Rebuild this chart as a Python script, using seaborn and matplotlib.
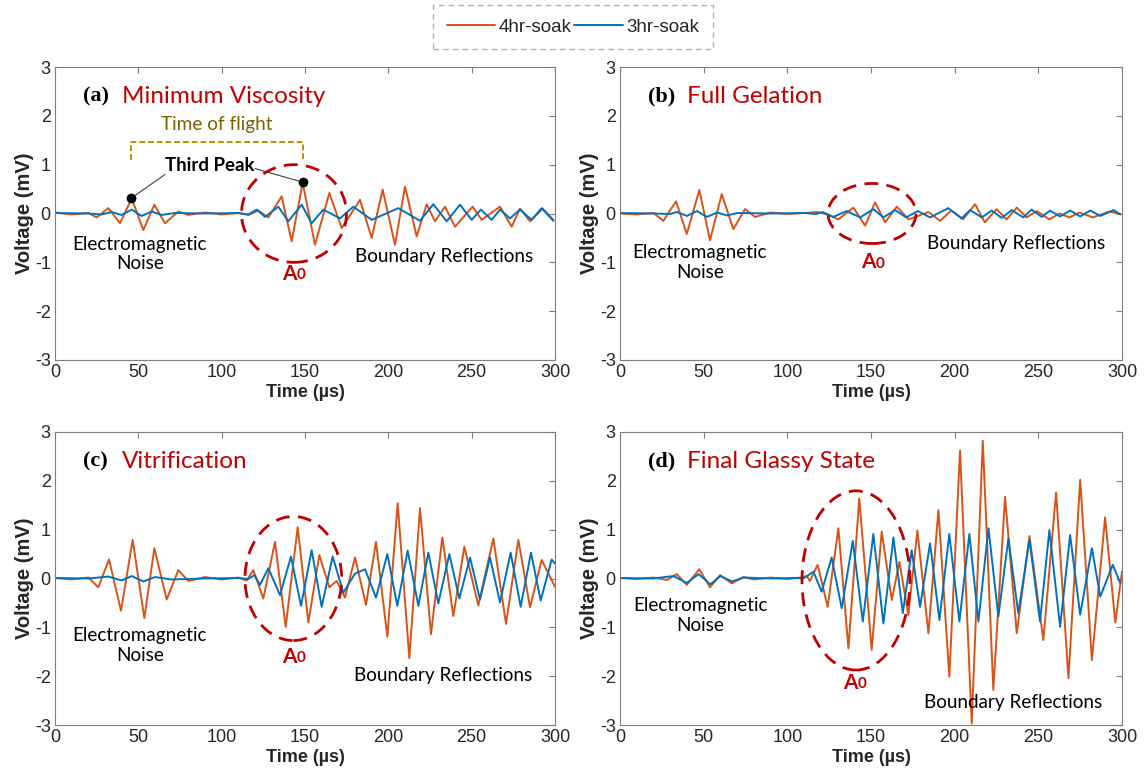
import numpy as np
import pandas as pd
import matplotlib
matplotlib.use('Agg')
import matplotlib.pyplot as plt
import seaborn as sns
from matplotlib.patches import Ellipse
from matplotlib.lines import Line2D

sns.set_style('white')
plt.rcParams['font.family'] = ['Liberation Sans', 'DejaVu Sans']
plt.rcParams['axes.unicode_minus'] = False

ORANGE = '#D95319'
BLUE = '#0072BD'
RED = '#C00000'
SERIES = ['4hr-soak', '3hr-soak']

# ---------------- data (extrema) ----------------
# Panel (a) Minimum Viscosity
t_a_4 = [0, 10, 20, 25, 32, 39, 46, 53, 59.6, 66, 74, 80, 90, 100, 110, 116, 122, 128, 136, 142,
         148.6, 156, 164.6, 172, 183, 190, 196.6, 204, 210, 217, 223, 228, 234, 240, 250.6, 256,
         267, 274, 279, 285, 292.6, 299]
v_a_4 = [0.02, -0.02, 0.01, -0.08, 0.11, -0.2, 0.31, -0.34, 0.18, -0.2, 0.04, -0.03, 0.02, -0.02,
         0.01, -0.03, 0.06, -0.08, 0.35, -0.57, 0.63, -0.64, 0.42, -0.3, 0.28, -0.5, 0.49, -0.64,
         0.55, -0.47, 0.19, -0.16, 0.14, -0.27, 0.14, -0.13, 0.14, -0.27, 0.1, -0.16, 0.1, -0.13]
t_a_3 = [0, 20, 28, 34, 40, 46, 52, 58, 64, 72, 90, 110, 116, 121, 126, 134, 140, 148, 154, 161,
         171, 179, 190, 206, 219, 227, 235, 243, 250, 255.5, 262, 267, 273, 279, 286, 292, 299]
v_a_3 = [0.01, 0.0, -0.02, 0.03, -0.03, 0.08, -0.05, 0.04, -0.03, 0.01, 0.0, 0.01, -0.02, 0.08,
         -0.07, 0.14, -0.16, 0.18, -0.2, 0.08, -0.1, 0.14, -0.13, 0.11, -0.15, 0.19, -0.16, 0.18,
         -0.13, 0.08, -0.13, 0.08, -0.1, 0.08, -0.13, 0.11, -0.15]

# Panel (b) Full Gelation
t_b_4 = [0, 10, 20, 25.9, 33.5, 39.9, 47.4, 53.8, 60.8, 67.7, 74.7, 80.7, 90, 100, 110, 118, 124,
         130.5, 139.5, 146.5, 152.4, 158.4, 165.4, 172.5, 184.3, 191.3, 198, 205, 212.2, 218, 225,
         231, 237.1, 243, 249, 256.6, 262.6, 268.6, 274.6, 282.6, 292.5, 299]
v_b_4 = [0.0, -0.02, 0.01, -0.15, 0.25, -0.42, 0.48, -0.55, 0.40, -0.32, 0.09, -0.07, 0.02, -0.01,
         0.01, 0.03, -0.02, -0.12, 0.12, -0.25, 0.23, -0.18, 0.14, -0.12, 0.03, -0.15, 0.06, -0.12,
         0.19, -0.18, 0.09, -0.12, 0.12, -0.08, 0.05, -0.12, 0.0, -0.08, 0.02, -0.08, 0.04, -0.01]
t_b_3 = [0, 20, 30, 34, 40, 46, 52, 58, 64, 70, 90, 110, 117, 121, 127.5, 135.5, 143.5, 151.4,
         157.4, 164.4, 171, 178, 185.3, 196.2, 204.2, 209.2, 216.2, 222.1, 228.1, 234.1, 241, 246,
         252, 257, 263, 269, 275, 281, 287, 295, 299]
v_b_3 = [0.01, 0.0, -0.01, 0.03, -0.05, 0.05, -0.07, 0.02, -0.04, 0.01, 0.0, 0.01, -0.01, 0.03,
         -0.07, 0.05, -0.08, 0.09, -0.08, 0.07, -0.08, 0.05, -0.08, 0.11, -0.1, 0.07, -0.08, 0.06,
         -0.09, 0.07, -0.08, 0.08, -0.07, 0.06, -0.06, 0.06, -0.06, 0.06, -0.05, 0.07, -0.02]

# Panel (c) Vitrification
t_c_4 = [0, 10, 20, 26, 32.4, 39.6, 46.6, 53.6, 59.6, 67, 74, 80, 90, 100, 110, 115, 119, 125, 132,
         138.4, 145.6, 152, 158.6, 164.6, 169, 174, 180, 186.6, 192.6, 199.4, 205.6, 212.6, 219,
         225.6, 232.4, 239, 245.6, 254, 263, 270.6, 278, 285, 292, 300]
v_c_4 = [0.01, -0.02, 0.02, -0.18, 0.39, -0.66, 0.79, -0.81, 0.62, -0.43, 0.17, -0.05, 0.03, -0.02,
         0.02, -0.04, 0.17, -0.41, 0.75, -0.99, 1.05, -0.90, 0.48, -0.18, -0.05, -0.39, 0.43, -0.54,
         0.75, -1.19, 1.54, -1.63, 1.44, -1.14, 0.84, -0.77, 0.65, -0.55, 0.82, -0.93, 0.79, -0.59,
         0.38, -0.17]
t_c_3 = [0, 20, 32, 40, 46, 53, 60, 70, 90, 110, 116, 119.6, 123, 128, 135, 141.6, 147.6, 154, 160,
         166.6, 173, 180, 186, 192.6, 199.4, 205.4, 211.6, 218, 224, 230, 236.6, 242.6, 249, 255,
         261, 267, 273.4, 279.4, 285.6, 291.4, 298, 300]
v_c_3 = [0.01, 0.0, 0.04, -0.04, 0.05, -0.06, 0.03, -0.02, 0.0, 0.01, -0.01, 0.07, -0.13, 0.21,
         -0.34, 0.45, -0.56, 0.58, -0.58, 0.45, -0.29, 0.1, 0.19, -0.39, 0.5, -0.56, 0.57, -0.56,
         0.53, -0.51, 0.5, -0.41, 0.43, -0.43, 0.43, -0.49, 0.53, -0.58, 0.53, -0.45, 0.39, 0.30]

# Panel (d) Final Glassy State
t_d_4 = [0, 10, 20, 28, 33.9, 39.9, 47.4, 53.8, 59.8, 66.8, 73.7, 80, 90, 100, 108, 111.6, 113.5,
         118.1, 124.1, 130.5, 136.5, 143, 150.4, 156.4, 162.4, 167, 172.3, 177.7, 184.3, 190.3,
         196.8, 203.2, 210.2, 216.8, 223.1, 230.1, 237.1, 244.7, 253, 260.6, 268, 275, 282, 289.9,
         296, 300]
v_d_4 = [0.01, -0.01, 0.02, -0.03, 0.09, -0.13, 0.19, -0.18, 0.07, -0.1, 0.03, -0.02, 0.02, -0.01,
         0.02, 0.05, -0.05, 0.28, -0.58, 1.03, -1.43, 1.64, -1.46, 0.96, -0.44, 0.34, -0.75, 0.98,
         -1.12, 1.4, -2.01, 2.62, -2.97, 2.82, -2.28, 1.67, -1.12, 0.87, -1.26, 1.76, -2.04, 2.02,
         -1.67, 1.25, -0.9, 0.14]
t_d_3 = [0, 20, 31.9, 39.9, 47, 54, 60, 67, 74, 90, 105, 109.6, 115.6, 120.5, 126.5, 132.5, 139.1,
         145.1, 151.4, 157.4, 163.4, 169, 174.3, 179.3, 185.3, 190.9, 196.8, 202.8, 208.8, 214.2,
         220.2, 226.1, 232.1, 238, 244.7, 251, 256.6, 263, 269, 275, 282, 287, 294.5, 299]
v_d_3 = [0.01, 0.0, 0.05, -0.09, 0.09, -0.12, 0.05, -0.06, 0.02, 0.0, 0.01, 0.0, 0.14, -0.27, 0.43,
         -0.61, 0.77, -0.88, 0.91, -0.92, 0.84, -0.71, 0.58, -0.58, 0.72, -0.85, 0.91, -0.88, 0.91,
         -0.88, 1.03, -0.78, 0.82, -0.71, 0.79, -0.88, 0.99, -0.99, 0.89, -0.74, 0.62, -0.37, 0.28,
         -0.1]

panel_titles = ['Minimum Viscosity', 'Full Gelation', 'Vitrification', 'Final Glassy State']
panel_tags = ['(a)', '(b)', '(c)', '(d)']
x_ticks = [0, 50, 100, 150, 200, 250, 300]
y_ticks = [-3, -2, -1, 0, 1, 2, 3]

# ---------------- figure ----------------
W, H = 1146, 782
fig = plt.figure(figsize=(W / 100, H / 100), dpi=100)

def rect(l, r, t, b):
    return [l / W, 1 - b / H, (r - l) / W, (b - t) / H]

rects = [rect(55, 555, 67, 360), rect(620, 1122, 67, 360),
         rect(55, 555, 432, 725), rect(620, 1122, 432, 725)]

data = [(t_a_4, v_a_4, t_a_3, v_a_3), (t_b_4, v_b_4, t_b_3, v_b_3),
        (t_c_4, v_c_4, t_c_3, v_c_3), (t_d_4, v_d_4, t_d_3, v_d_3)]

CAL = ['Lato', 'DejaVu Sans']
AX_GRAY = '#7f7f7f'
TXT = '#262626'

axes = []
for i, (r, (t4, v4, t3, v3)) in enumerate(zip(rects, data)):
    ax = fig.add_axes(r)
    axes.append(ax)
    df = pd.concat([
        pd.DataFrame({'Time': t4, 'Voltage': v4, 'Series': SERIES[0]}),
        pd.DataFrame({'Time': t3, 'Voltage': v3, 'Series': SERIES[1]}),
    ], ignore_index=True)
    sns.lineplot(data=df, x='Time', y='Voltage', hue='Series', hue_order=SERIES,
                 palette={SERIES[0]: ORANGE, SERIES[1]: BLUE}, estimator=None, sort=False,
                 linewidth=1.4, legend=False, ax=ax)
    for ln in ax.get_lines():
        ln.set_solid_joinstyle('round')
    ax.set_xlim(0, 300)
    ax.set_ylim(-3, 3)
    ax.set_xticks(x_ticks)
    ax.set_yticks(y_ticks)
    ax.tick_params(direction='in', top=True, right=True, length=4, width=0.8,
                   color=AX_GRAY, labelsize=13, labelcolor=TXT, pad=3)
    for s in ax.spines.values():
        s.set_color(AX_GRAY)
        s.set_linewidth(0.8)
    ax.set_xlabel('Time (µs)', fontsize=13, fontweight='bold', color=TXT, labelpad=2)
    ax.set_ylabel('Voltage (mV)', fontsize=14.5, fontweight='bold', color=TXT, labelpad=1)
    ax.text(17.0, 2.39, panel_tags[i], family=['Liberation Serif'], fontweight='bold',
            fontsize=16, ha='left', va='center', color='black')
    ax.text(40.3, 2.39, panel_titles[i], family=CAL, fontsize=17.5, ha='left', va='center',
            color=RED)

def a0(ax, x, y):
    ta = ax.text(x, y, 'A', family=CAL, fontweight='bold', fontsize=15, color=RED,
                 ha='right', va='center')
    ax.annotate('0', xy=(1.0, 0.08), xycoords=ta, family=CAL, fontweight='bold',
                fontsize=11, color=RED, ha='left', va='bottom')

def ellipse(ax, cx, cy, w, h):
    ax.add_patch(Ellipse((cx, cy), w, h, fill=False, edgecolor=RED, linewidth=2,
                         linestyle=(0, (5, 3)), zorder=5))

ax_a, ax_b, ax_c, ax_d = axes
tk = dict(family=CAL, fontsize=13.6, color='black', ha='center', va='center',
          multialignment='center', linespacing=1.2)

# (a)
ellipse(ax_a, 143.4, 0.0, 63, 2.0)
a0(ax_a, 145, -1.23)
ax_a.text(51, -0.83, 'Electromagnetic\nNoise', **tk)
ax_a.text(233.7, -0.88, 'Boundary Reflections', **tk)
ax_a.plot([45.6, 45.6, 148.8, 148.8], [1.1, 1.47, 1.47, 1.1], color='#BF9000',
          linestyle=(0, (3, 1.5)), linewidth=1.4)
ax_a.text(97, 1.82, 'Time of flight', family=CAL, fontsize=13.7, color='#7F6000',
          ha='center', va='center')
ax_a.text(93, 0.98, 'Third Peak', family=CAL, fontsize=13.4, fontweight='bold', color='black',
          ha='center', va='center')
ax_a.plot([45.6, 66], [0.31, 0.8], color='#404040', linewidth=0.8)
ax_a.plot([120, 148.8], [0.92, 0.64], color='#404040', linewidth=0.8)
ax_a.plot([45.6, 148.8], [0.31, 0.64], 'o', color='black', markersize=6, zorder=6)

# (b)
ellipse(ax_b, 150.6, 0.0, 52.6, 1.23)
a0(ax_b, 153, -1.0)
ax_b.text(47.8, -1.0, 'Electromagnetic\nNoise', **tk)
ax_b.text(237, -0.62, 'Boundary Reflections', **tk)

# (c)
ellipse(ax_c, 143, 0.0, 58, 2.54)
a0(ax_c, 145, -1.6)
ax_c.text(51, -1.37, 'Electromagnetic\nNoise', **tk)
ax_c.text(233, -1.98, 'Boundary Reflections', **tk)

# (d)
ellipse(ax_d, 141, -0.04, 64.5, 3.67)
a0(ax_d, 142, -2.14)
ax_d.text(48, -0.76, 'Electromagnetic\nNoise', **tk)
ax_d.text(235, -2.53, 'Boundary Reflections', **tk)

handles = [Line2D([], [], color=ORANGE, lw=1.4), Line2D([], [], color=BLUE, lw=1.4)]
leg = fig.legend(handles, SERIES, loc='upper center', bbox_to_anchor=(0.5, 0.993), ncol=2,
                 fontsize=13.5, frameon=True, fancybox=False, handlelength=2.6,
                 handletextpad=0.2, columnspacing=0.1, borderpad=0.7, borderaxespad=0.0)
fr = leg.get_frame()
fr.set_edgecolor('#a0a0a0')
fr.set_linestyle((0, (4, 3)))
fr.set_linewidth(1.0)
for txt in leg.get_texts():
    txt.set_color(TXT)

fig.savefig('out.png', dpi=100)
